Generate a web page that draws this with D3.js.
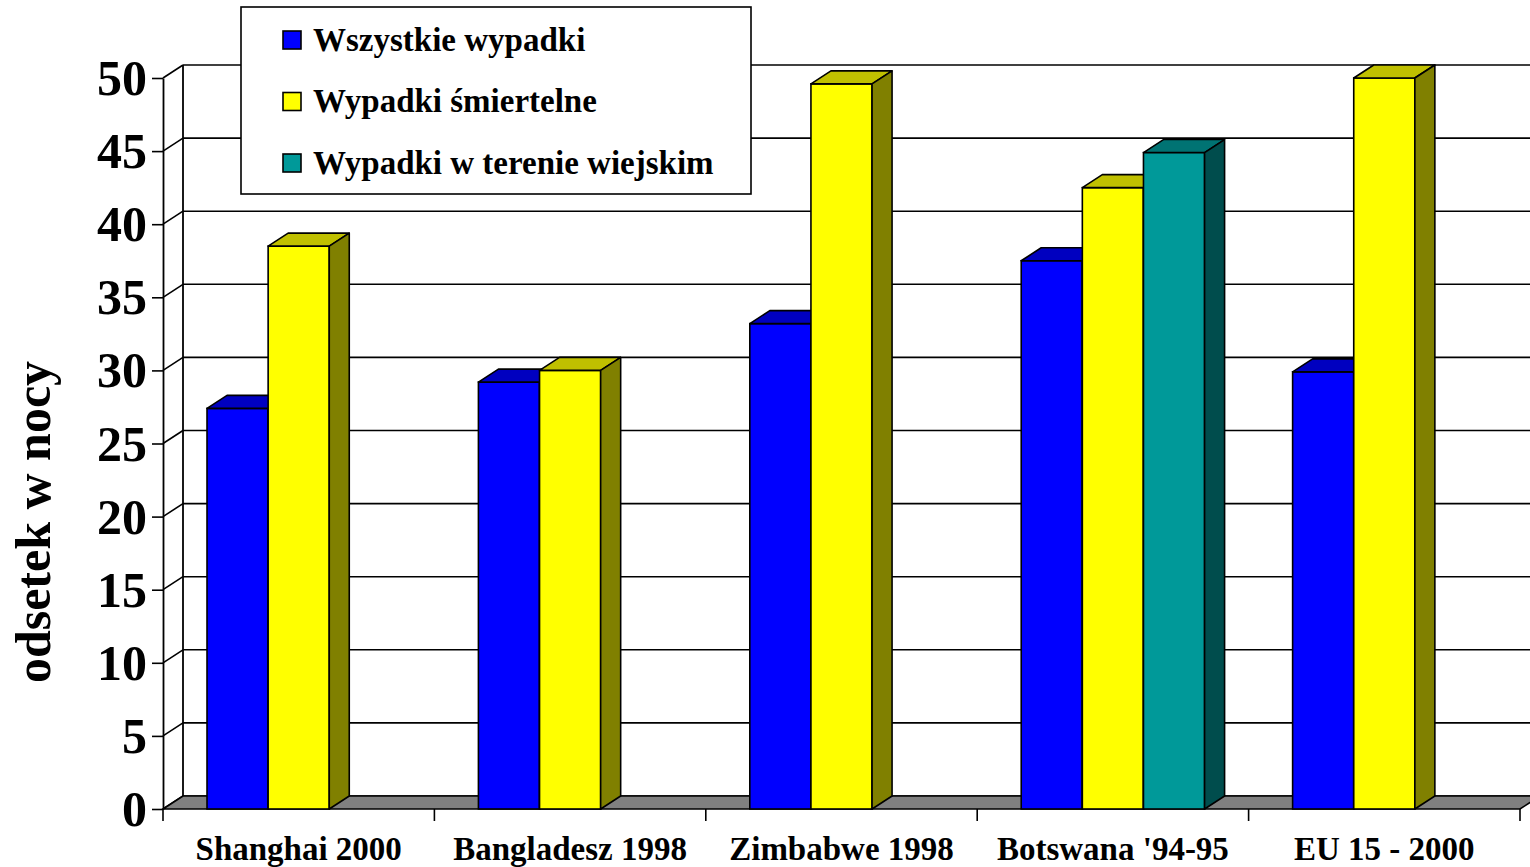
<!DOCTYPE html>
<html>
<head>
<meta charset="utf-8">
<script src="https://cdn.jsdelivr.net/npm/d3@7"></script>
<style>
  html, body { margin: 0; padding: 0; background: #fff; }
  svg { display: block; }
  text { font-family: "Liberation Serif", "Times New Roman", serif; font-weight: bold; fill: #000; }
</style>
</head>
<body>
<svg id="chart" width="1530" height="867"></svg>
<script>
// ---- data ----
const categories = ["Shanghai 2000", "Bangladesz 1998", "Zimbabwe 1998", "Botswana '94-95", "EU 15 - 2000"];
const seriesNames = ["Wszystkie wypadki", "Wypadki śmiertelne", "Wypadki w terenie wiejskim"];
const allAccidents = [27.4, 29.2, 33.2, 37.5, 29.9];
const fatalAccidents = [38.5, 30.0, 49.6, 42.5, 50.0];
const ruralAccidents = [null, null, null, 44.9, null];
const yTicks = [0, 5, 10, 15, 20, 25, 30, 35, 40, 45, 50];
const yTitle = "odsetek w nocy";

const seriesValues = [allAccidents, fatalAccidents, ruralAccidents];
const colors = [
  { front: "#0000FF", top: "#0000C0", side: "#000080" },
  { front: "#FFFF00", top: "#C0C000", side: "#808000" },
  { front: "#009999", top: "#007373", side: "#004D4D" }
];

// ---- layout ----
const svg = d3.select("#chart");
const frontLeft = 163, frontRight = 1520;
const frontBottom = 809, frontTop = 78;
const DX = 20, DY = -13;   // depth offset (front -> back)

const y = d3.scaleLinear().domain([0, 50]).range([frontBottom, frontTop]);
const x0 = d3.scaleBand().domain(categories).range([frontLeft, frontRight]).paddingInner(0).paddingOuter(0);
const x1 = d3.scaleBand().domain(d3.range(seriesNames.length)).range([0, x0.bandwidth()])
  .paddingInner(0).paddingOuter(0.72);

// back wall
const wall = svg.append("g");
wall.append("rect")
  .attr("x", frontLeft + DX).attr("y", y(50) + DY)
  .attr("width", 1600).attr("height", y(0) - y(50))
  .attr("fill", "#fff");
wall.selectAll("line.grid").data(yTicks).join("line")
  .attr("class", "grid")
  .attr("x1", frontLeft + DX).attr("x2", 1600)
  .attr("y1", d => y(d) + DY).attr("y2", d => y(d) + DY)
  .attr("stroke", "#000").attr("stroke-width", 1.6);
// side wall diagonals
wall.selectAll("line.diag").data(yTicks).join("line")
  .attr("class", "diag")
  .attr("x1", frontLeft).attr("y1", d => y(d))
  .attr("x2", frontLeft + DX).attr("y2", d => y(d) + DY)
  .attr("stroke", "#000").attr("stroke-width", 1.6);
wall.append("line")
  .attr("x1", frontLeft + DX).attr("x2", frontLeft + DX)
  .attr("y1", y(50) + DY).attr("y2", y(0) + DY)
  .attr("stroke", "#000").attr("stroke-width", 1.8);

// floor
svg.append("polygon")
  .attr("points", [
    [frontLeft, y(0)], [frontRight, y(0)],
    [frontRight + DX, y(0) + DY], [frontLeft + DX, y(0) + DY]
  ].map(p => p.join(",")).join(" "))
  .attr("fill", "#808080").attr("stroke", "#000").attr("stroke-width", 1.6);

// bars
const barsG = svg.append("g");
categories.forEach((cat, ci) => {
  seriesValues.forEach((vals, si) => {
    const v = vals[ci];
    if (v == null) return;
    const xl = x0(cat) + x1(si);
    const w = x1.bandwidth();
    const yt = y(v), yb = y(0);
    const c = colors[si];
    const g = barsG.append("g");
    g.append("rect").attr("x", xl).attr("y", yt).attr("width", w).attr("height", yb - yt)
      .attr("fill", c.front).attr("stroke", "#000").attr("stroke-width", 1.6);
    g.append("polygon")
      .attr("points", [[xl, yt], [xl + w, yt], [xl + w + DX, yt + DY], [xl + DX, yt + DY]].map(p => p.join(",")).join(" "))
      .attr("fill", c.top).attr("stroke", "#000").attr("stroke-width", 1.6).attr("stroke-linejoin", "round");
    g.append("polygon")
      .attr("points", [[xl + w, yt], [xl + w + DX, yt + DY], [xl + w + DX, yb + DY], [xl + w, yb]].map(p => p.join(",")).join(" "))
      .attr("fill", c.side).attr("stroke", "#000").attr("stroke-width", 1.6).attr("stroke-linejoin", "round");
  });
});

// y axis
const yAxis = d3.axisLeft(y).tickValues(yTicks).tickSize(11).tickSizeOuter(0).tickPadding(5);
const yg = svg.append("g").attr("transform", `translate(${frontLeft},0)`).call(yAxis);
yg.select(".domain").attr("stroke", "#000").attr("stroke-width", 1.8);
yg.selectAll(".tick line").attr("stroke", "#000").attr("stroke-width", 1.6);
yg.selectAll(".tick text")
  .attr("font-size", 50).attr("font-family", "Liberation Serif, serif").attr("font-weight", "bold")
  .attr("fill", "#000").attr("dy", "0.33em");

// x axis: boundary ticks + centered labels
const bounds = categories.map(c => x0(c)).concat([frontRight]);
svg.selectAll("line.xtick").data(bounds).join("line")
  .attr("class", "xtick")
  .attr("x1", d => d).attr("x2", d => d)
  .attr("y1", y(0)).attr("y2", y(0) + 12)
  .attr("stroke", "#000").attr("stroke-width", 1.6);
const xAxis = d3.axisBottom(x0).tickSize(0).tickPadding(0);
const xg = svg.append("g").attr("transform", `translate(0,${y(0)})`).call(xAxis);
xg.select(".domain").remove();
xg.selectAll(".tick text")
  .attr("font-size", 33).attr("font-family", "Liberation Serif, serif").attr("font-weight", "bold")
  .attr("fill", "#000").attr("y", 51).attr("dy", 0);

// y title
svg.append("text")
  .attr("transform", "translate(50,522) rotate(-90)")
  .attr("text-anchor", "middle")
  .attr("font-size", 50)
  .text(yTitle);

// legend
const lg = svg.append("g");
lg.append("rect").attr("x", 241).attr("y", 7).attr("width", 510).attr("height", 187)
  .attr("fill", "#fff").attr("stroke", "#000").attr("stroke-width", 1.6);
seriesNames.forEach((name, i) => {
  const cy = 40 + i * 61.5;
  lg.append("rect").attr("x", 283).attr("y", cy - 9).attr("width", 18).attr("height", 18)
    .attr("fill", colors[i].front).attr("stroke", "#000").attr("stroke-width", 1.6);
  lg.append("text").attr("x", 313).attr("y", cy + 10.5).attr("font-size", 33).text(name);
});
</script>
</body>
</html>
